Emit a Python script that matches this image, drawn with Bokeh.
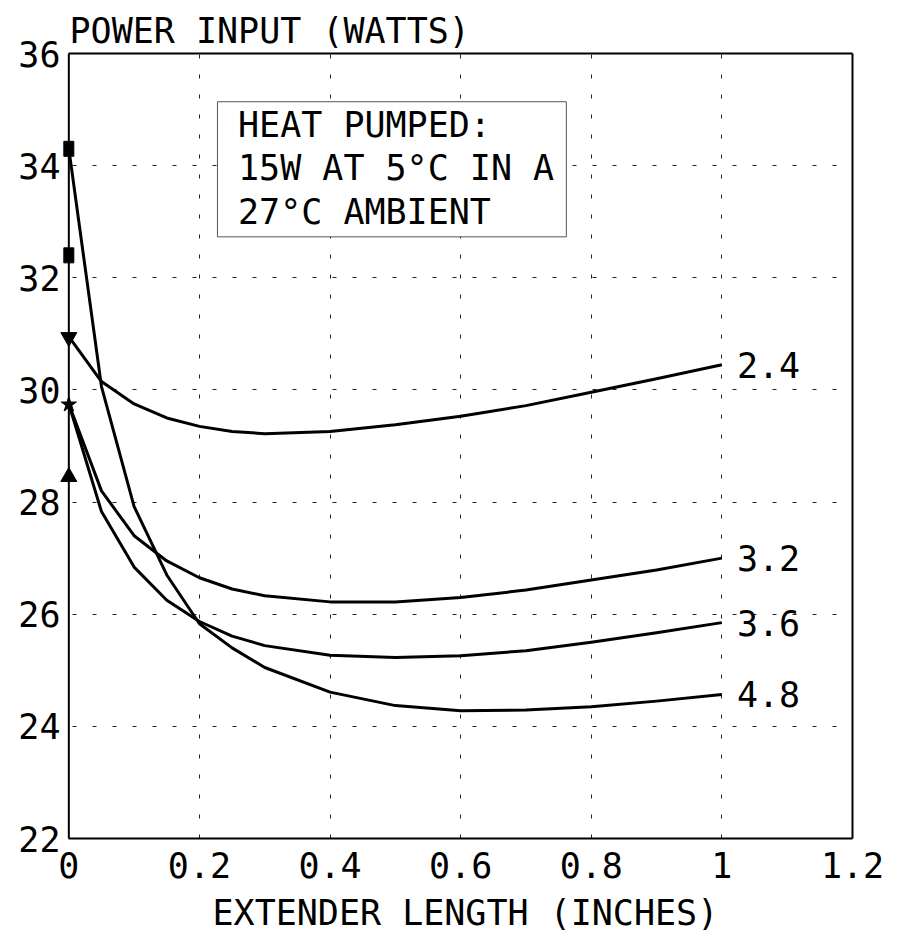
from bokeh.plotting import figure
from bokeh.models import Range1d, FixedTicker, Title, LinearAxis, Span
from bokeh.core.properties import value
from bokeh.embed import file_html
from bokeh.resources import INLINE

# ---- data ----
extender_len = [0, 0.05, 0.1, 0.15, 0.2, 0.25, 0.3, 0.4, 0.5, 0.6, 0.7, 0.8, 0.9, 1.0]
power_24 = [30.95, 30.15, 29.75, 29.5, 29.35, 29.26, 29.22, 29.26, 29.38, 29.53, 29.72, 29.96, 30.2, 30.45]
power_32 = [29.75, 28.2, 27.4, 26.95, 26.65, 26.45, 26.33, 26.22, 26.22, 26.3, 26.43, 26.61, 26.79, 27.0]
power_36 = [29.75, 27.83, 26.84, 26.25, 25.87, 25.61, 25.44, 25.27, 25.23, 25.26, 25.35, 25.5, 25.67, 25.85]
power_48 = [34.3, 30.06, 27.92, 26.7, 25.83, 25.4, 25.05, 24.61, 24.37, 24.28, 24.29, 24.35, 24.45, 24.57]
curve_names = ["2.4", "3.2", "3.6", "4.8"]

marker_x = [0, 0, 0, 0, 0]
marker_y = [34.3, 32.4, 30.94, 29.74, 28.45]
marker_kind = ["square", "square", "inverted_triangle", "star", "triangle"]

x_ticks = [0, 0.2, 0.4, 0.6, 0.8, 1.0, 1.2]
x_tick_labels = ["0", "0.2", "0.4", "0.6", "0.8", "1", "1.2"]
y_ticks = [22, 24, 26, 28, 30, 32, 34, 36]

note_lines = ["HEAT PUMPED:", "15W AT 5°C IN A", "27°C AMBIENT"]
y_title = "POWER INPUT (WATTS)"
x_title = "EXTENDER LENGTH (INCHES)"

FONT = "DejaVu Sans Mono"
FS = "35px"

X0, X1 = -0.025, 1.2
p = figure(width=905, height=938, output_backend="svg", toolbar_location=None,
           x_range=Range1d(X0, X1), y_range=Range1d(22, 36),
           frame_width=800, frame_height=785,
           min_border_left=52, min_border_right=53, min_border_top=53, min_border_bottom=100)
p.background_fill_color = "white"
p.border_fill_color = "white"
p.outline_line_color = None

# bottom axis
xa = p.xaxis[0]
xa.bounds = (0, 1.2)
xa.ticker = FixedTicker(ticks=x_ticks)
xa.major_label_overrides = {t: l for t, l in zip(x_ticks, x_tick_labels)}
xa.major_label_standoff = 13
# left axis: labels only (its line is drawn at x = 0 below)
ya = p.yaxis[0]
ya.ticker = FixedTicker(ticks=y_ticks)
ya.major_label_standoff = -8

top_ax = LinearAxis(ticker=FixedTicker(ticks=[]), bounds=(0, 1.2))
right_ax = LinearAxis(ticker=FixedTicker(ticks=[]))
p.add_layout(top_ax, "above")
p.add_layout(right_ax, "right")

for ax in (xa, ya, top_ax, right_ax):
    ax.axis_line_width = 2
    ax.axis_line_color = "black"
    ax.major_tick_line_color = None
    ax.minor_tick_line_color = None
    ax.major_tick_out = 0
    ax.major_tick_in = 0
    ax.minor_tick_out = 0
    ax.major_label_text_font = FONT
    ax.major_label_text_font_size = FS
    ax.major_label_text_color = "black"
ya.axis_line_color = None

p.xgrid.ticker = FixedTicker(ticks=x_ticks)
p.ygrid.ticker = FixedTicker(ticks=y_ticks)
for g in (p.xgrid, p.ygrid):
    g.grid_line_color = "#222222"
    g.grid_line_width = 1
    g.grid_line_dash = "4 16"

# hide the grid stubs left of the y axis
p.quad(left=X0 - 0.01, right=0, bottom=21, top=37, fill_color="white", line_color=None)
p.add_layout(Span(location=0, dimension="height", line_color="black", line_width=2))

# note box
p.quad(left=0.2276, right=0.7618, bottom=32.73, top=35.14,
       fill_color="white", line_color="#555555", line_width=1)
note_y = [34.717, 33.955, 33.18]
p.text(x=[0.2591] * 3, y=note_y, text=note_lines, text_font=value(FONT),
       text_font_size=FS, text_baseline="middle", text_align="left", text_color="black")

# curves
series = [power_24, power_32, power_36, power_48]
for s in series:
    p.line(extender_len, s, line_color="black", line_width=3, line_join="round")

# markers
sq_x = [x for x, k in zip(marker_x, marker_kind) if k == "square"]
sq_y = [y for y, k in zip(marker_y, marker_kind) if k == "square"]
p.rect(x=sq_x, y=sq_y, width=10, height=15, width_units="screen", height_units="screen",
       fill_color="black", line_color="black")
ot_x = [x for x, k in zip(marker_x, marker_kind) if k != "square"]
ot_y = [y for y, k in zip(marker_y, marker_kind) if k != "square"]
ot_k = [k for k in marker_kind if k != "square"]
p.scatter(x=ot_x, y=ot_y, marker=ot_k, size=16, fill_color="black", line_color="black")

# curve end labels
end_y = [s[-1] for s in series]
p.text(x=[extender_len[-1]] * 4, y=end_y, text=curve_names, x_offset=15,
       text_font=value(FONT), text_font_size=FS, text_baseline="middle",
       text_align="left", text_color="black")

# titles
p.title = Title(text=y_title, align="left", offset=17, text_font=FONT,
                text_font_size=FS, text_font_style="normal", text_color="black",
                standoff=6)
p.add_layout(Title(text=x_title, align="left", offset=160, text_font=FONT,
                   text_font_size=FS, text_font_style="normal", text_color="black",
                   standoff=21), "below")

open("out.html", "w").write(file_html(p, INLINE))
